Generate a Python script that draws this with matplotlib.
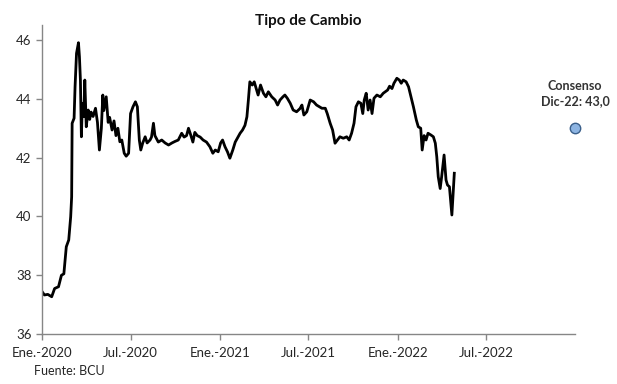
import numpy as np
import pandas as pd
import matplotlib
matplotlib.use('Agg')
import matplotlib.pyplot as plt
import matplotlib.dates as mdates

plt.rcParams['font.family'] = ['Lato', 'DejaVu Sans']

# tipo de cambio (lectura aproximada del grafico)
fechas = ['2020-01-01','2020-01-06','2020-01-13','2020-01-21','2020-01-27','2020-02-04','2020-02-10','2020-02-15',
          '2020-02-20','2020-02-25','2020-02-29','2020-03-02','2020-03-03','2020-03-07','2020-03-09','2020-03-12',
          '2020-03-16','2020-03-18','2020-03-20','2020-03-22','2020-03-24','2020-03-27','2020-03-29','2020-04-01',
          '2020-04-05','2020-04-08','2020-04-11','2020-04-15','2020-04-20','2020-04-24','2020-04-28','2020-05-02',
          '2020-05-05','2020-05-07','2020-05-12','2020-05-16','2020-05-19','2020-05-24','2020-05-28','2020-06-01',
          '2020-06-05','2020-06-09','2020-06-13','2020-06-18','2020-06-22','2020-06-27','2020-07-01','2020-07-06',
          '2020-07-11','2020-07-15','2020-07-19','2020-07-22','2020-07-26','2020-07-31','2020-08-04','2020-08-10',
          '2020-08-13','2020-08-17','2020-08-20','2020-08-27','2020-09-03','2020-09-10','2020-09-17','2020-09-24',
          '2020-09-30','2020-10-07','2020-10-14','2020-10-19','2020-10-24','2020-10-28','2020-11-02','2020-11-06',
          '2020-11-10','2020-11-15','2020-11-21','2020-11-27','2020-12-04','2020-12-11','2020-12-17','2020-12-22',
          '2020-12-28','2021-01-02','2021-01-06','2021-01-11','2021-01-16','2021-01-21','2021-01-27','2021-02-01',
          '2021-02-05','2021-02-11','2021-02-16','2021-02-21','2021-02-25','2021-02-28','2021-03-03','2021-03-08',
          '2021-03-12','2021-03-16','2021-03-20','2021-03-25','2021-03-31','2021-04-05','2021-04-10','2021-04-17',
          '2021-04-24','2021-04-29','2021-05-04','2021-05-10','2021-05-14','2021-05-19','2021-05-25','2021-05-31',
          '2021-06-07','2021-06-14','2021-06-18','2021-06-22','2021-06-28','2021-07-05','2021-07-12','2021-07-18',
          '2021-07-24','2021-07-29','2021-08-05','2021-08-09','2021-08-15','2021-08-20','2021-08-25','2021-08-30',
          '2021-09-04','2021-09-11','2021-09-18','2021-09-23','2021-09-28','2021-10-03','2021-10-07','2021-10-12',
          '2021-10-17','2021-10-21','2021-10-24','2021-10-28','2021-11-01','2021-11-05','2021-11-09','2021-11-13',
          '2021-11-19','2021-11-26','2021-12-02','2021-12-11','2021-12-15','2021-12-20','2021-12-24','2021-12-30',
          '2022-01-04','2022-01-08','2022-01-12','2022-01-18','2022-01-23','2022-01-28','2022-02-02','2022-02-08',
          '2022-02-12','2022-02-17','2022-02-20','2022-02-24','2022-02-28','2022-03-04','2022-03-10','2022-03-15',
          '2022-03-19','2022-03-22','2022-03-25','2022-03-29','2022-04-01','2022-04-06','2022-04-10','2022-04-13',
          '2022-04-17','2022-04-22','2022-04-27']
tc = [37.45,37.33,37.35,37.27,37.55,37.61,38.00,38.05,
      38.97,39.20,39.99,40.67,43.17,43.34,44.41,45.55,
      45.91,45.43,44.64,42.71,43.85,43.40,44.64,43.05,
      43.62,43.30,43.55,43.40,43.68,43.20,42.26,43.00,
      44.13,43.60,44.07,43.20,43.37,42.94,43.25,42.75,
      43.00,42.54,42.60,42.15,42.05,42.15,43.50,43.73,
      43.90,43.73,42.60,42.26,42.50,42.71,42.50,42.60,
      42.70,43.17,42.75,42.53,42.60,42.50,42.43,42.50,
      42.55,42.60,42.83,42.70,42.75,43.00,42.75,42.53,
      42.86,42.75,42.70,42.60,42.53,42.37,42.15,42.26,
      42.20,42.50,42.60,42.37,42.20,41.98,42.26,42.53,
      42.65,42.83,42.94,43.10,43.39,43.96,44.58,44.47,
      44.58,44.35,44.13,44.47,44.19,44.07,44.24,44.07,
      43.96,43.79,43.96,44.07,44.13,44.02,43.85,43.62,
      43.56,43.67,43.79,43.45,43.56,43.96,43.90,43.79,
      43.73,43.68,43.68,43.50,43.17,42.94,42.49,42.60,
      42.71,42.66,42.71,42.60,42.83,43.17,43.73,43.90,
      43.85,43.50,43.96,44.19,43.62,43.96,43.50,44.02,
      44.13,44.07,44.19,44.30,44.43,44.35,44.53,44.70,
      44.64,44.53,44.64,44.58,44.41,44.07,43.73,43.28,
      43.05,43.00,42.26,42.75,42.60,42.83,42.77,42.71,
      42.49,42.03,41.35,40.95,41.35,42.09,41.24,41.07,
      41.01,40.05,41.47]

consenso_fecha = '2022-12-31'
consenso_valor = 43.0

tick_fechas = ['2020-01-01','2020-07-01','2021-01-01','2021-07-01','2022-01-01','2022-07-01']
tick_labels = ['Ene.-2020','Jul.-2020','Ene.-2021','Jul.-2021','Ene.-2022','Jul.-2022']

fig = plt.figure(figsize=(6.17,3.84), dpi=100)
ax = fig.add_axes([0.068, 0.130, 0.864, 0.804])

ax.plot(pd.to_datetime(fechas), tc, color='black', linewidth=2.0)
ax.plot(pd.to_datetime([consenso_fecha]), [consenso_valor], 'o', markersize=7.5,
        markerfacecolor='#8db4e2', markeredgecolor='#3a5f8a', markeredgewidth=1.0, clip_on=False)
ax.annotate('Consenso\nDic-22: %s' % ('%.1f' % consenso_valor).replace('.', ','),
            xy=(pd.Timestamp(consenso_fecha), consenso_valor), xytext=(0, 15),
            textcoords='offset points', ha='center', va='bottom',
            fontsize=9, fontweight='bold', color='#333333', linespacing=1.3)

ax.set_xlim(pd.Timestamp('2020-01-01'), pd.Timestamp('2022-12-31'))
ax.set_ylim(36, 46.5)
ax.set_yticks([36, 38, 40, 42, 44, 46])
ax.set_xticks(pd.to_datetime(tick_fechas))
ax.set_xticklabels(tick_labels)

for s in ['top', 'right']:
    ax.spines[s].set_visible(False)
for s in ['left', 'bottom']:
    ax.spines[s].set_color('#868686')
    ax.spines[s].set_linewidth(1.0)
ax.tick_params(axis='both', colors='#868686', labelcolor='#262626', labelsize=9.5, length=4, width=1.0)
ax.tick_params(axis='x', pad=5)

fig.text(0.5, 0.945, 'Tipo de Cambio', ha='center', va='center', fontsize=11, fontweight='bold', color='#111111')
fig.text(0.055, 0.035, 'Fuente: BCU', ha='left', va='center', fontsize=9, color='#262626')

fig.savefig('out.png', dpi=100)
